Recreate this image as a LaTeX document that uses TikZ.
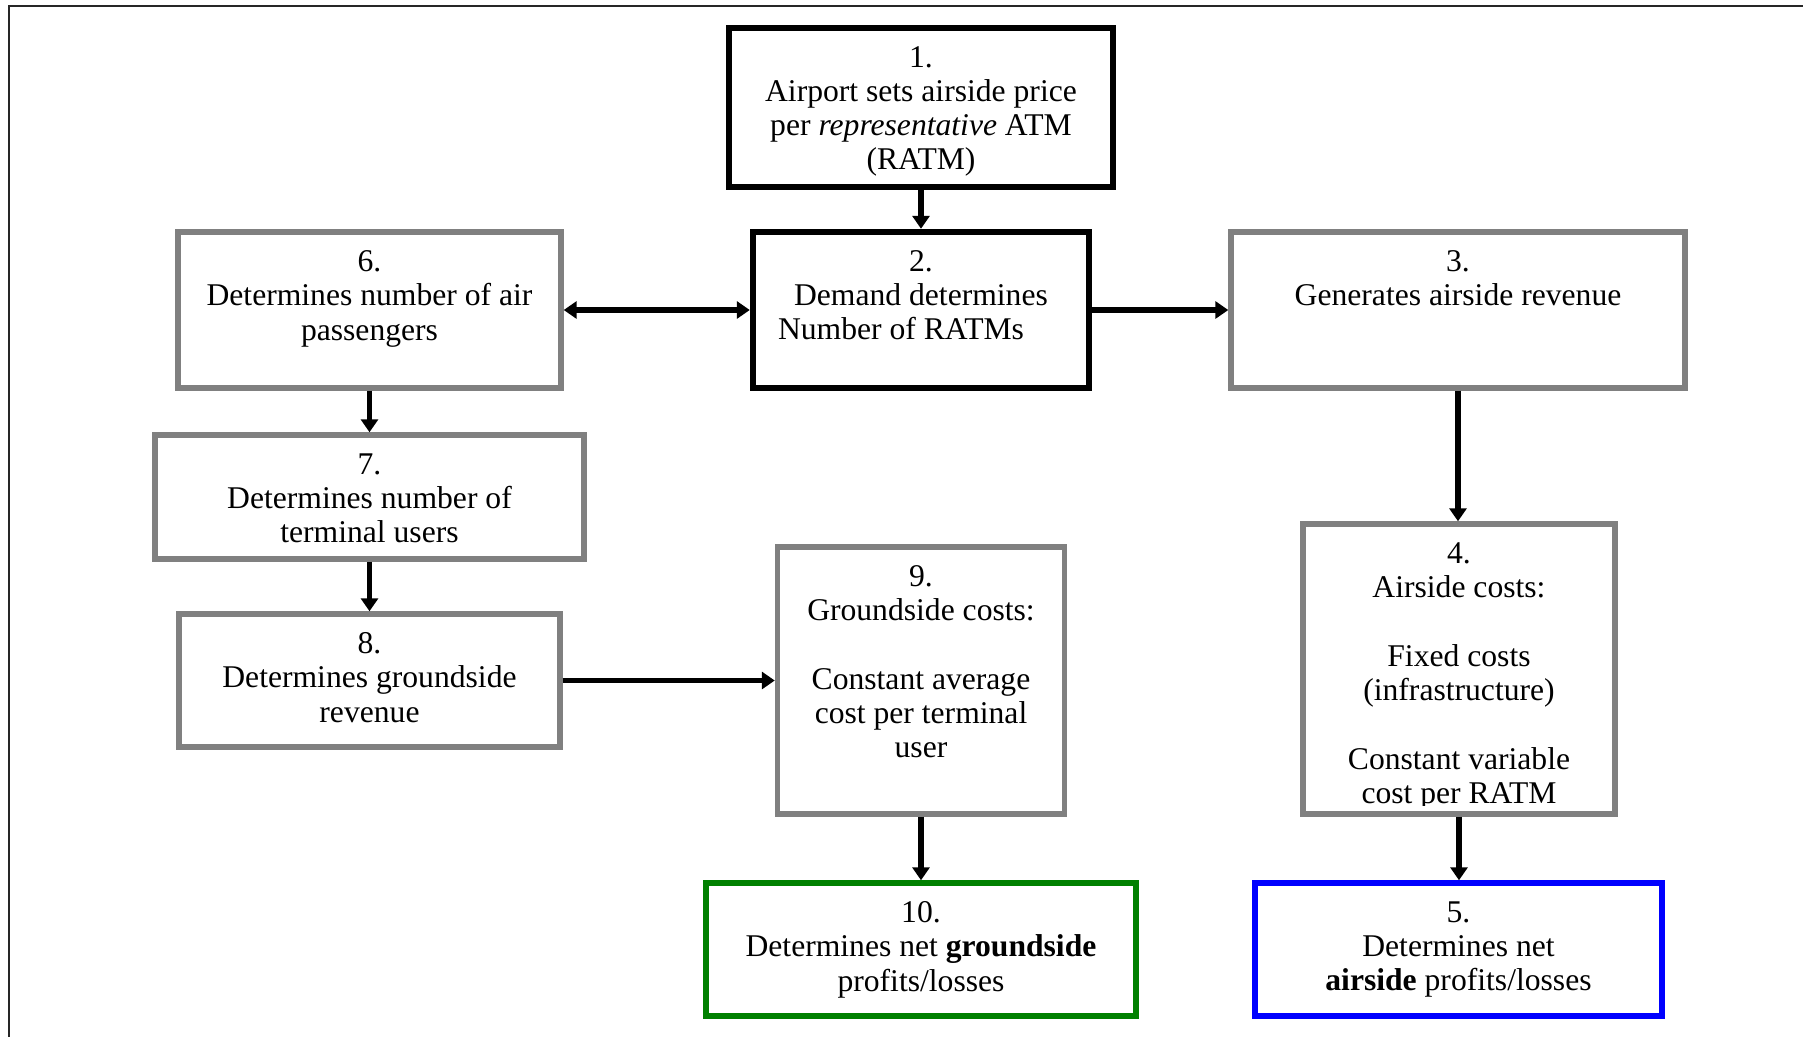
\documentclass[tikz,border=0pt]{standalone}
\usepackage{fontspec}
\setmainfont{Liberation Serif}
\usetikzlibrary{arrows.meta}
\definecolor{boxgrey}{RGB}{128,128,128}
\definecolor{boxgreen}{RGB}{0,128,0}
\definecolor{boxblue}{RGB}{0,0,255}
\newcommand{\boxfont}{\fontsize{18}{19.5}\selectfont}
\tikzset{
  anybox/.style={draw, inner sep=0pt, line width=0.11cm},
  blackbox/.style={anybox, draw=black, line width=0.13cm},
  greybox/.style={anybox, draw=boxgrey},
  greenbox/.style={anybox, draw=boxgreen},
  bluebox/.style={anybox, draw=boxblue},
  boxtext/.style={anchor=north, align=center, inner sep=0pt, font=\boxfont},
  arr/.style={line width=0.11cm, -{Triangle[width=0.34cm,length=0.26cm]}},
  dblarr/.style={line width=0.11cm, {Triangle[width=0.34cm,length=0.26cm]}-{Triangle[width=0.34cm,length=0.26cm]}}
}

\begin{document}
\begin{tikzpicture}[x=0.02cm, y=-0.02cm]
\useasboundingbox (0,0) rectangle (1803,1036);
\draw[line width=0.05cm, black!85] (9,1045) -- (9,6) -- (1810,6);

\node[blackbox, minimum width=7.68cm, minimum height=3.18cm] (b1) at (921,107.5) {};
\node[boxtext] (t1) at ([yshift=-0.42cm]b1.north) {1.\\Airport sets airside price\\per \textit{representative} ATM\\(RATM)};

\node[blackbox, minimum width=6.72cm, minimum height=3.12cm] (b2) at (921,310) {};
\node[boxtext] (t2) at ([yshift=-0.42cm]b2.north) {2.\\Demand determines\\Number of RATMs\hspace*{0.8cm}};

\node[greybox, minimum width=9.08cm, minimum height=3.12cm] (b3) at (1458,310) {};
\node[boxtext] (t3) at ([yshift=-0.42cm]b3.north) {3.\\Generates airside revenue};

\node[greybox, minimum width=6.24cm, minimum height=5.80cm] (b4) at (1459,669) {};
\begin{scope}
\clip (1303,524) rectangle (1615,805);
\node[boxtext] (t4) at ([yshift=-0.42cm]b4.north) {4.\\Airside costs:\\[19.5pt]Fixed costs\\(infrastructure)\\[19.5pt]Constant variable\\cost per RATM};
\end{scope}

\node[bluebox, minimum width=8.14cm, minimum height=2.66cm] (b5) at (1458.5,949.5) {};
\node[boxtext] (t5) at ([yshift=-0.42cm]b5.north) {5.\\Determines net\\\textbf{airside} profits/losses};

\node[greybox, minimum width=7.66cm, minimum height=3.12cm] (b6) at (369.5,310) {};
\node[boxtext] (t6) at ([yshift=-0.42cm]b6.north) {6.\\Determines number of air\\passengers};

\node[greybox, minimum width=8.58cm, minimum height=2.48cm] (b7) at (369.5,497) {};
\node[boxtext] (t7) at ([yshift=-0.42cm]b7.north) {7.\\Determines number of\\terminal users};

\node[greybox, minimum width=7.62cm, minimum height=2.66cm] (b8) at (369.5,680.5) {};
\node[boxtext] (t8) at ([yshift=-0.42cm]b8.north) {8.\\Determines groundside\\revenue};

\node[greybox, minimum width=5.74cm, minimum height=5.34cm] (b9) at (921,680.5) {};
\node[boxtext] (t9) at ([yshift=-0.42cm]b9.north) {9.\\Groundside costs:\\[19.5pt]Constant average\\cost per terminal\\user};

\node[greenbox, minimum width=8.60cm, minimum height=2.66cm] (b10) at (921,949.5) {};
\node[boxtext] (t10) at ([yshift=-0.42cm]b10.north) {10.\\Determines net \textbf{groundside}\\profits/losses};

\draw[arr] (b1.south) -- (b2.north);
\draw[arr] (b2.east) -- (b3.west);
\draw[dblarr] (b6.east) -- (b2.west);
\draw[arr] (b3.south) -- (b3.south |- b4.north);
\draw[arr] (b4.south) -- (b4.south |- b5.north);
\draw[arr] (b6.south) -- (b7.north);
\draw[arr] (b7.south) -- (b8.north);
\draw[arr] (b8.east) -- (b8.east -| b9.west);
\draw[arr] (b9.south) -- (b9.south |- b10.north);
\end{tikzpicture}
\end{document}
